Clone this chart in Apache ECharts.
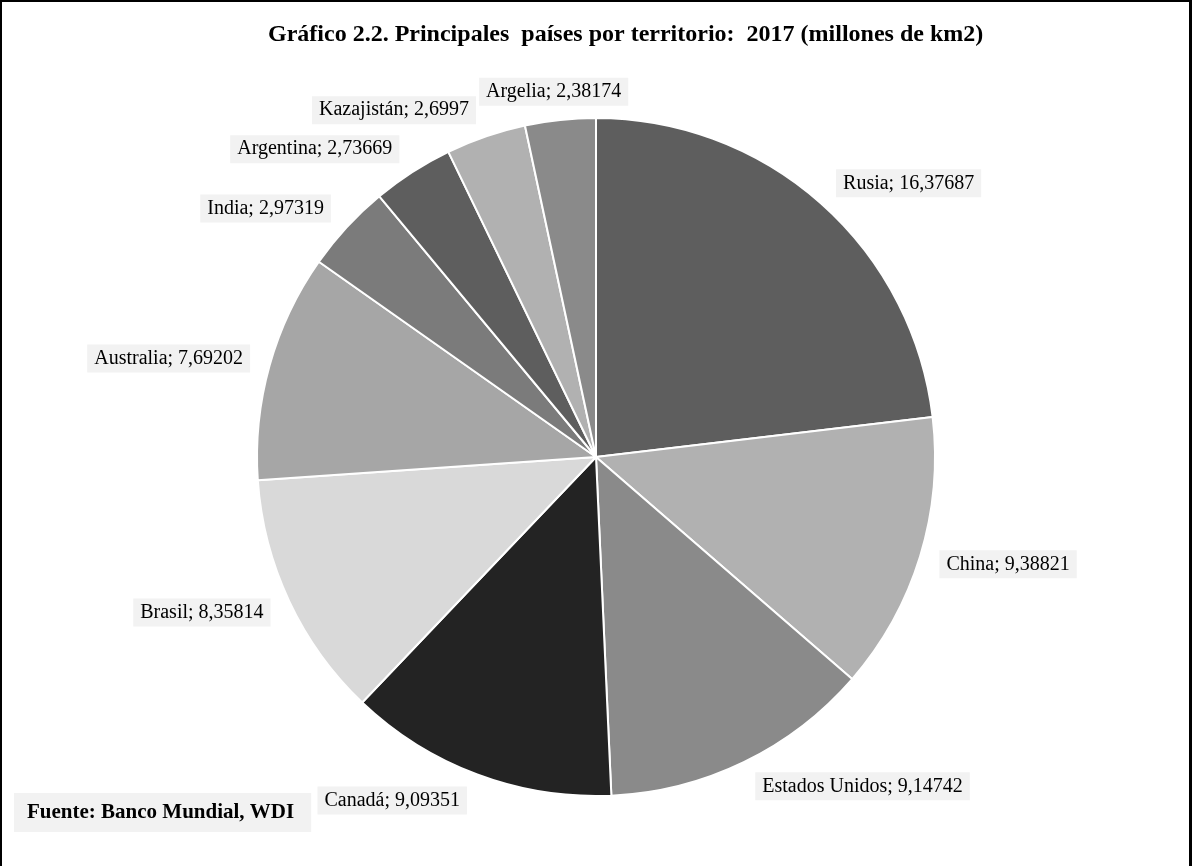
<!DOCTYPE html>
<html>
<head>
<meta charset="utf-8">
<script src="https://cdn.jsdelivr.net/npm/echarts@6/dist/echarts.min.js"></script>
<style>
html,body{margin:0;padding:0;background:#fff;}
#frame{position:absolute;left:0;top:0;width:1192px;height:866px;box-sizing:border-box;border-left:2px solid #000;border-top:2px solid #000;border-right:3px solid #000;}
#chart{position:absolute;left:0;top:0;width:1192px;height:866px;}
</style>
</head>
<body>
<div id="chart"></div>
<div id="frame"></div>
<script>
const countries = ['Rusia','China','Estados Unidos','Canadá','Brasil','Australia','India','Argentina','Kazajistán','Argelia'];
const areas = [16.37687, 9.38821, 9.14742, 9.09351, 8.35814, 7.69202, 2.97319, 2.73669, 2.6997, 2.38174];
const sliceColors = ['#5e5e5e','#b1b1b1','#8a8a8a','#232323','#d9d9d9','#a6a6a6','#7b7b7b','#5e5e5e','#b1b1b1','#8a8a8a'];
const titleText = 'Gráfico 2.2. Principales  países por territorio:  2017 (millones de km2)';
const sourceText = 'Fuente: Banco Mundial, WDI';

const fmt = v => String(v).replace('.', ',');
const pieCenter = [596, 457];

const chart = echarts.init(document.getElementById('chart'), null, {renderer: 'canvas'});
chart.setOption({
  backgroundColor: '#fff',
  animation: false,
  title: {
    text: titleText,
    left: 263,
    top: 18,
    textStyle: {fontFamily: 'Liberation Serif', fontWeight: 'bold', fontSize: 24, color: '#000'}
  },
  graphic: [{
    type: 'text',
    left: 14,
    top: 793,
    style: {
      text: sourceText,
      font: 'bold 21px "Liberation Serif"',
      fill: '#000',
      backgroundColor: '#f2f2f2',
      padding: [9, 17, 9, 13]
    }
  }],
  series: [{
    type: 'pie',
    center: pieCenter,
    radius: 339,
    startAngle: 90,
    clockwise: true,
    avoidLabelOverlap: false,
    minShowLabelAngle: 0,
    data: countries.map((c, i) => ({name: c, value: areas[i], itemStyle: {color: sliceColors[i]}})),
    itemStyle: {borderColor: '#fff', borderWidth: 2},
    label: {
      show: true,
      position: 'outside',
      formatter: p => p.name + '; ' + fmt(p.value),
      fontFamily: 'Liberation Serif',
      fontSize: 20,
      color: '#000',
      backgroundColor: '#f2f2f2',
      padding: [4, 7, 4, 7]
    },
    labelLayout: function (params) {
      const r = params.labelRect;
      const vx = r.x + r.width / 2 - pieCenter[0];
      const vy = r.y + r.height / 2 - pieCenter[1];
      const d = Math.hypot(vx, vy) || 1;
      const out = {hideOverlap: false, dy: vy / d * r.height / 2};
      if (Math.abs(vx) / d < 0.4) out.align = 'center';
      return out;
    },
    labelLine: {show: false, length: 15, length2: 0},
    emphasis: {disabled: true}
  }]
});
</script>
</body>
</html>
